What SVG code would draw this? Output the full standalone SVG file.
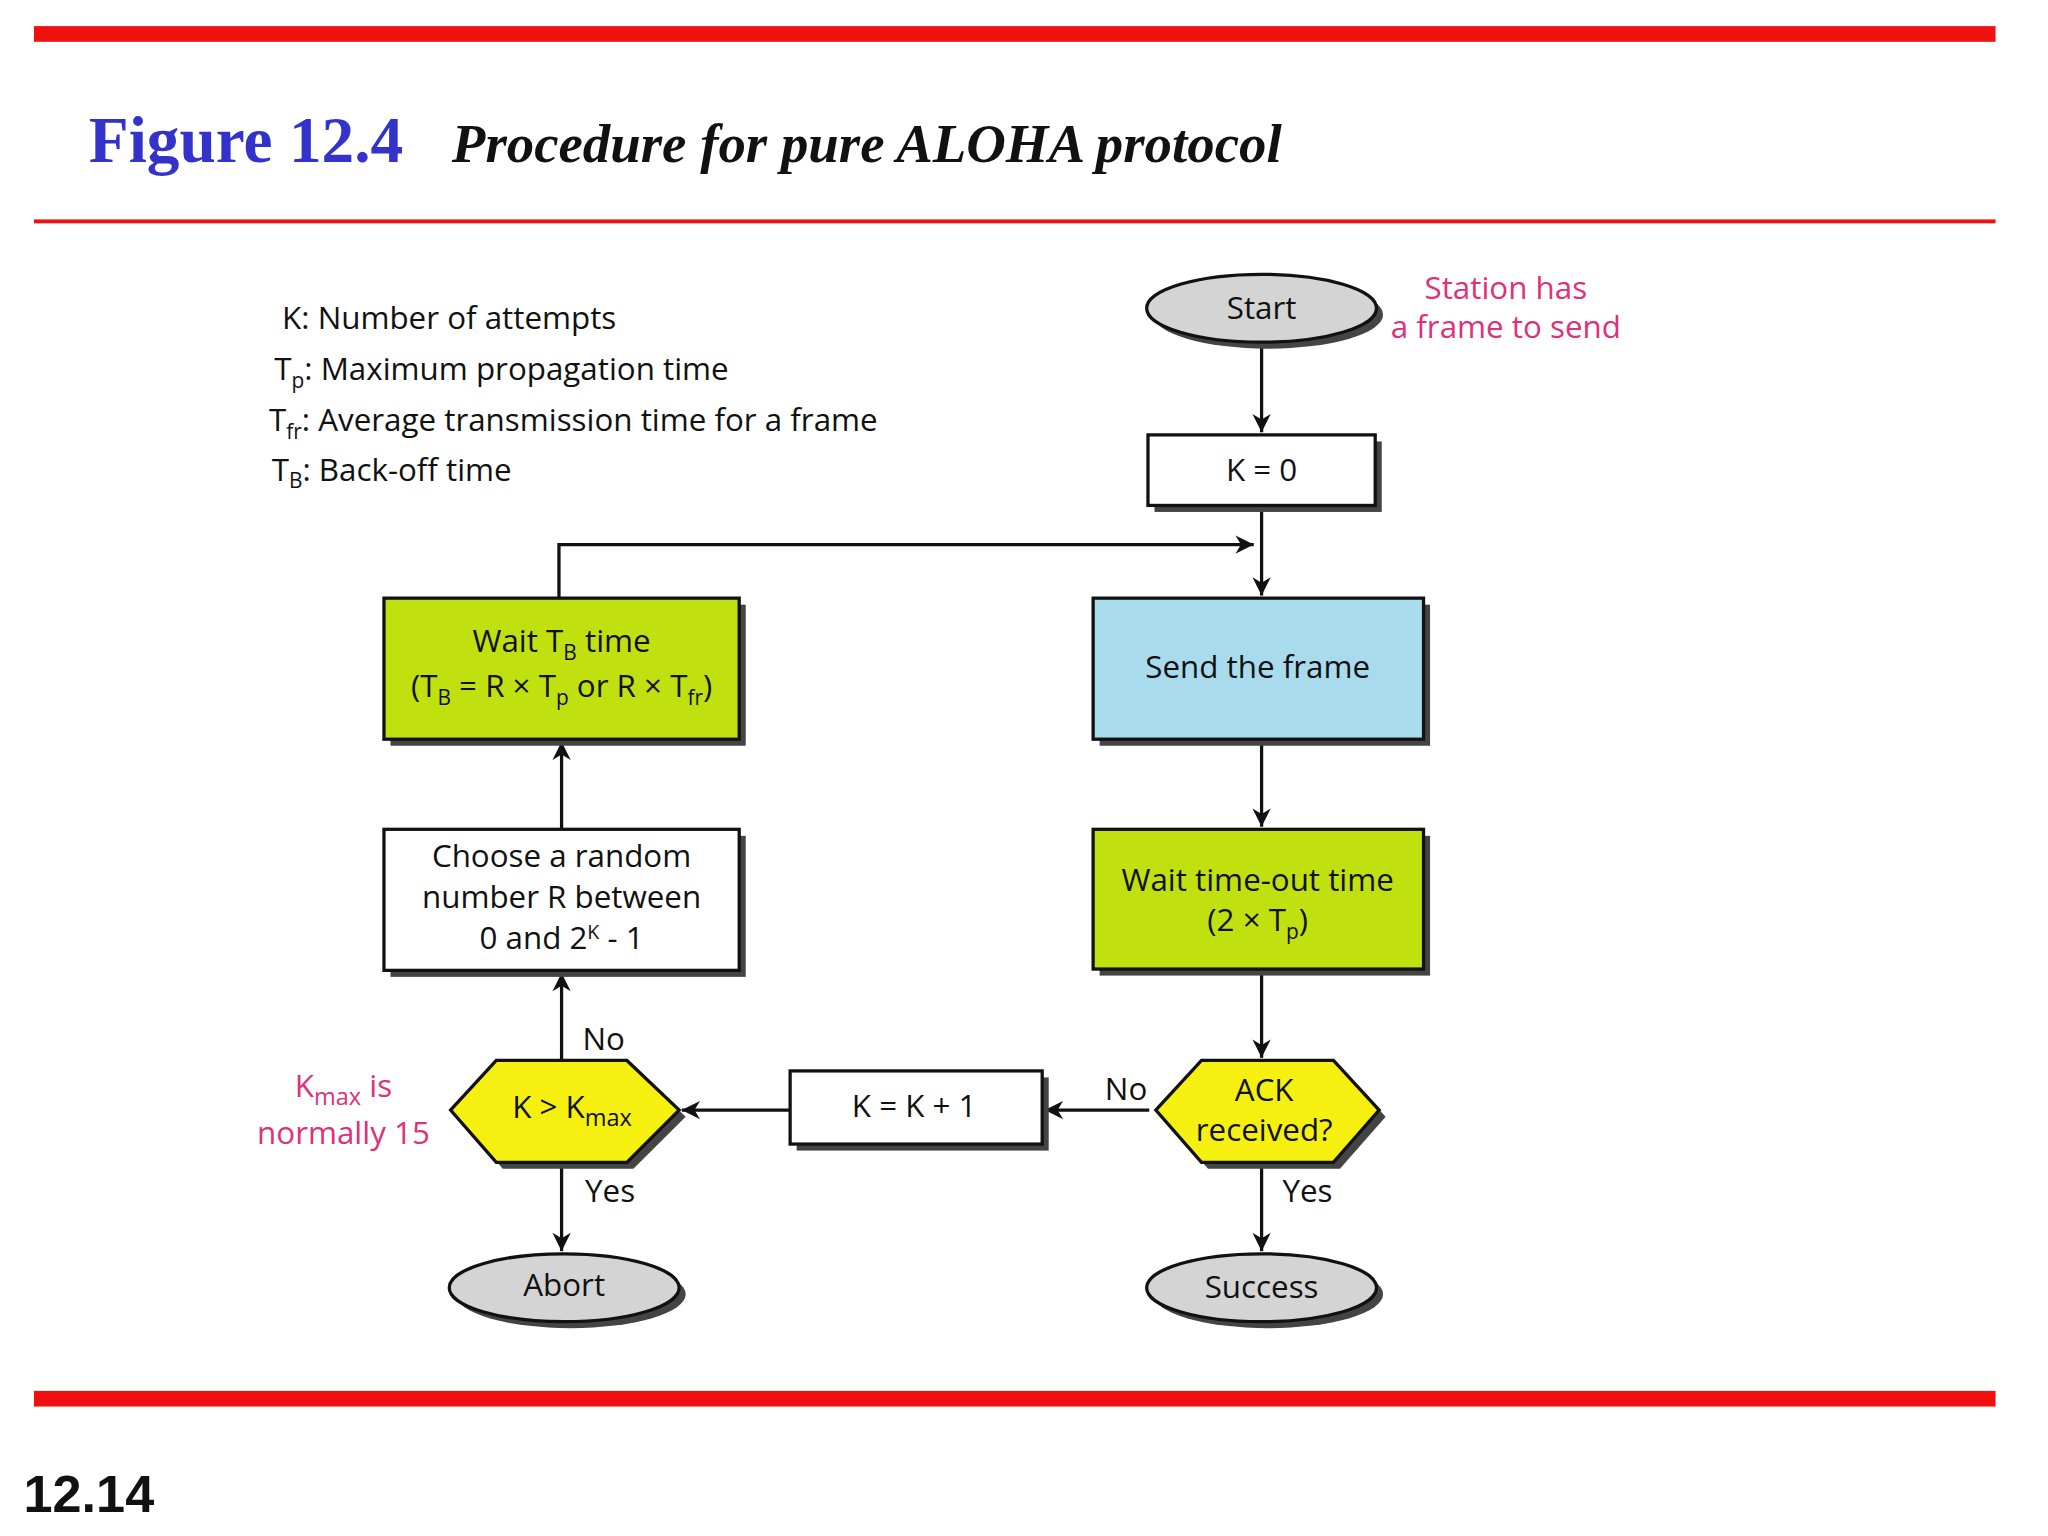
<svg xmlns="http://www.w3.org/2000/svg" width="2048" height="1536" viewBox="0 0 2048 1536">
<style>
.t{font-family:"Open Sans","Liberation Sans",sans-serif;font-size:24px;fill:#111}
.c{text-anchor:middle}
.p{fill:#e0307a}
.s{fill:#444}
.b{stroke:#111;stroke-width:2.5}
.ln{stroke:#111;stroke-width:2.5;fill:none}
</style>
<defs>
<marker id="ah" viewBox="0 0 10 10" refX="10" refY="5" markerWidth="16" markerHeight="14" markerUnits="userSpaceOnUse" orient="auto"><path d="M0,0 L10,5 L0,10 L3,5 z" fill="#111"/></marker>
</defs>
<rect width="2048" height="1536" fill="#fff"/>
<g transform="scale(1.306)">
<rect x="26" y="20" width="1502" height="12" fill="#f01010"/>
<rect x="26" y="168" width="1502" height="3" fill="#f01010"/>
<rect x="26" y="1065" width="1502" height="12" fill="#f01010"/>
<text x="68" y="124" font-family="Liberation Serif,serif" font-weight="bold" font-size="50" fill="#3333cc">Figure 12.4</text>
<text x="346" y="124" font-family="Liberation Serif,serif" font-weight="bold" font-style="italic" font-size="42" fill="#111">Procedure for pure ALOHA protocol</text>
<text x="18" y="1158" font-family="Liberation Sans,sans-serif" font-weight="bold" font-size="40" fill="#111">12.14</text>

<g id="legend" class="t">
<text x="216" y="252">K: Number of attempts</text>
<text x="210" y="291">T<tspan font-size="16" dy="6">p</tspan><tspan dy="-6">: Maximum propagation time</tspan></text>
<text x="206" y="330">T<tspan font-size="16" dy="6">fr</tspan><tspan dy="-6">: Average transmission time for a frame</tspan></text>
<text x="208" y="368">T<tspan font-size="16" dy="6">B</tspan><tspan dy="-6">: Back-off time</tspan></text>
</g>

<g id="connectors">
<line class="ln" x1="966" y1="262" x2="966" y2="331" marker-end="url(#ah)"/>
<line class="ln" x1="966" y1="387" x2="966" y2="456" marker-end="url(#ah)"/>
<polyline class="ln" points="428,458 428,417 960,417" marker-end="url(#ah)"/>
<line class="ln" x1="966" y1="566" x2="966" y2="633" marker-end="url(#ah)"/>
<line class="ln" x1="966" y1="742" x2="966" y2="810" marker-end="url(#ah)"/>
<line class="ln" x1="966" y1="890" x2="966" y2="958" marker-end="url(#ah)"/>
<line class="ln" x1="880" y1="850" x2="800" y2="850" marker-end="url(#ah)"/>
<line class="ln" x1="605" y1="850" x2="522" y2="850" marker-end="url(#ah)"/>
<line class="ln" x1="430" y1="812" x2="430" y2="745" marker-end="url(#ah)"/>
<line class="ln" x1="430" y1="635" x2="430" y2="568" marker-end="url(#ah)"/>
<line class="ln" x1="430" y1="890" x2="430" y2="958" marker-end="url(#ah)"/>
<text class="t" x="446" y="804">No</text>
<text class="t" x="448" y="920">Yes</text>
<text class="t" x="846" y="842">No</text>
<text class="t" x="982" y="920">Yes</text>
</g>

<g id="start">
<ellipse cx="971" cy="241" rx="88" ry="26" class="s"/>
<ellipse cx="966" cy="236" rx="88" ry="26" fill="#d4d4d4" class="b"/>
<text class="t c" x="966" y="244">Start</text>
<text class="t c p" x="1153" y="229">Station has</text>
<text class="t c p" x="1153" y="259">a frame to send</text>
</g>
<g id="k0">
<rect x="884" y="338" width="174" height="54" class="s"/>
<rect x="879" y="333" width="174" height="54" fill="#fff" class="b"/>
<text class="t c" x="966" y="368">K = 0</text>
</g>
<g id="send">
<rect x="842" y="463" width="253" height="108" class="s"/>
<rect x="837" y="458" width="253" height="108" fill="#a8dced" class="b"/>
<text class="t c" x="963" y="519">Send the frame</text>
</g>
<g id="timeout">
<rect x="842" y="640" width="253" height="107" class="s"/>
<rect x="837" y="635" width="253" height="107" fill="#c0e010" class="b"/>
<text class="t c" x="963" y="682">Wait time-out time</text>
<text class="t c" x="963" y="713">(2 × T<tspan font-size="16" dy="6">p</tspan><tspan dy="-6">)</tspan></text>
</g>
<g id="ack">
<polygon points="925,817 1026,817 1061,855 1026,895 925,895 890,855" class="s"/>
<polygon points="920,812 1021,812 1056,850 1021,890 920,890 885,850" fill="#f5f010" class="b"/>
<text class="t c" x="968" y="843">ACK</text>
<text class="t c" x="968" y="874">received?</text>
</g>
<g id="success">
<ellipse cx="971" cy="991" rx="88" ry="26" class="s"/>
<ellipse cx="966" cy="986" rx="88" ry="26" fill="#d4d4d4" class="b"/>
<text class="t c" x="966" y="994">Success</text>
</g>
<g id="kinc">
<rect x="610" y="825" width="193" height="56" class="s"/>
<rect x="605" y="820" width="193" height="56" fill="#fff" class="b"/>
<text class="t c" x="700" y="855">K = K + 1</text>
</g>
<g id="kmax">
<polygon points="385,817 485,817 525,855 485,895 385,895 350,855" class="s"/>
<polygon points="380,812 480,812 520,850 480,890 380,890 345,850" fill="#f5f010" class="b"/>
<text class="t c" x="438" y="856">K &gt; K<tspan font-size="18" dy="6">max</tspan></text>
<text class="t c p" x="263" y="840">K<tspan font-size="18" dy="6">max</tspan><tspan dy="-6"> is</tspan></text>
<text class="t c p" x="263" y="876">normally 15</text>
</g>
<g id="abort">
<ellipse cx="437" cy="991" rx="88" ry="26" class="s"/>
<ellipse cx="432" cy="986" rx="88" ry="26" fill="#d4d4d4" class="b"/>
<text class="t c" x="432" y="992">Abort</text>
</g>
<g id="choose">
<rect x="299" y="640" width="272" height="108" class="s"/>
<rect x="294" y="635" width="272" height="108" fill="#fff" class="b"/>
<text class="t c" x="430" y="664">Choose a random</text>
<text class="t c" x="430" y="695">number R between</text>
<text class="t c" x="430" y="727">0 and 2<tspan font-size="15" dy="-8">K</tspan><tspan dy="8"> - 1</tspan></text>
</g>
<g id="waitb">
<rect x="299" y="463" width="272" height="108" class="s"/>
<rect x="294" y="458" width="272" height="108" fill="#c0e010" class="b"/>
<text class="t c" x="430" y="499">Wait T<tspan font-size="16" dy="6">B</tspan><tspan dy="-6"> time</tspan></text>
<text class="t c" x="430" y="534">(T<tspan font-size="16" dy="6">B</tspan><tspan dy="-6"> = R × T</tspan><tspan font-size="16" dy="6">p</tspan><tspan dy="-6"> or R × T</tspan><tspan font-size="16" dy="6">fr</tspan><tspan dy="-6">)</tspan></text>
</g>
</g>
</svg>
